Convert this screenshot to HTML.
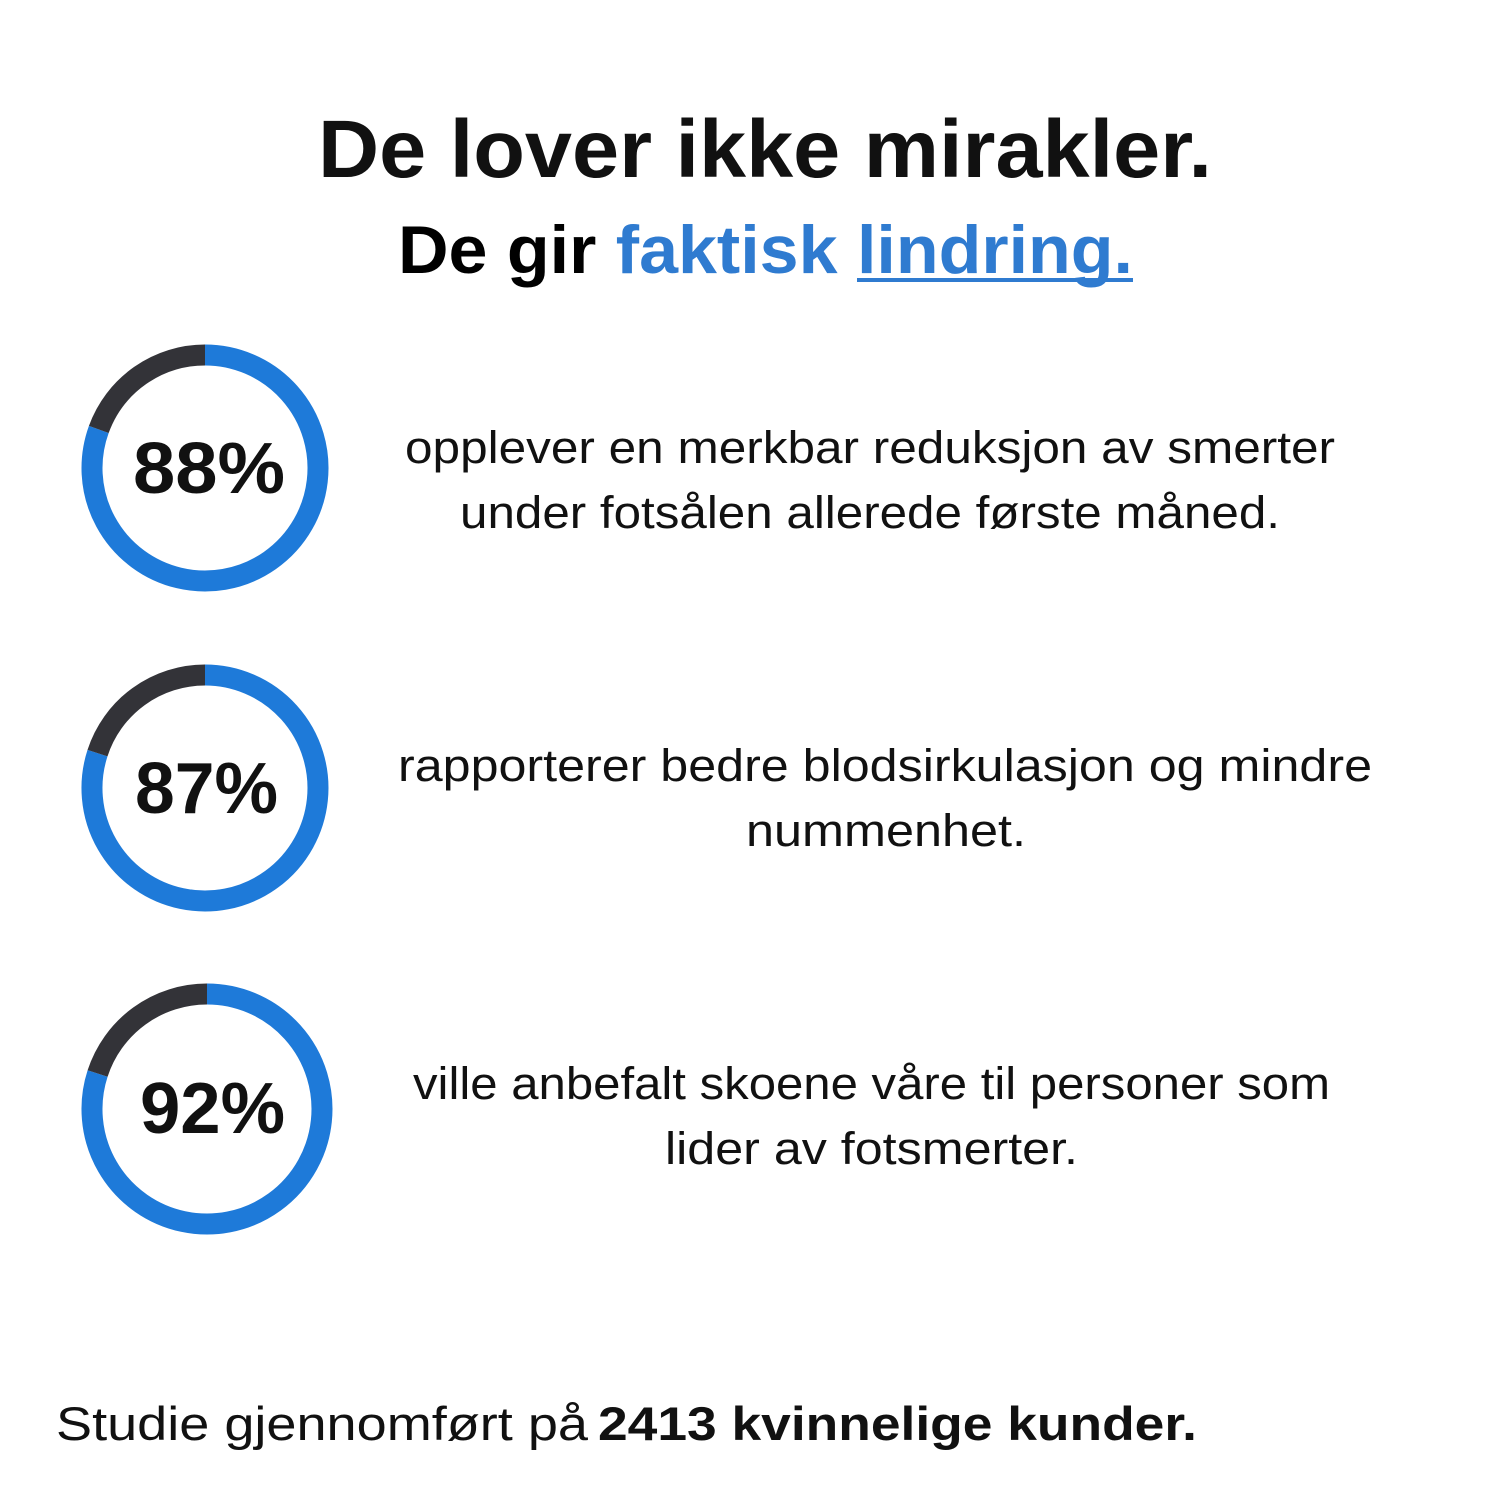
<!DOCTYPE html>
<html><head><meta charset="utf-8"><style>
html,body{margin:0;padding:0;background:#fff;}
svg{display:block;}
text{font-family:"Liberation Sans",sans-serif;fill:#111;}
.b{font-weight:bold;}
</style></head><body>
<svg width="1500" height="1500" viewBox="0 0 1500 1500" xmlns="http://www.w3.org/2000/svg">
<rect width="1500" height="1500" fill="#fff"/>
<text class="b" x="318" y="177" font-size="82" textLength="894" lengthAdjust="spacingAndGlyphs" fill="#000">De lover ikke mirakler.</text>
<text class="b" x="398" y="273" font-size="68" textLength="735" lengthAdjust="spacingAndGlyphs"><tspan fill="#000">De gir </tspan><tspan fill="#2f7bd0">faktisk lindring.</tspan></text>
<rect x="857" y="278" width="276" height="4" fill="#2f7bd0"/>

<g fill="none" stroke-width="21">
 <g transform="translate(205,468)">
  <path d="M0,-113 A113,113 0 1 1 -106.2,-38.6" stroke="#1e7ad9"/>
  <path d="M-106.2,-38.6 A113,113 0 0 1 0,-113" stroke="#333338"/>
 </g>
 <g transform="translate(205,788)">
  <path d="M0,-113 A113,113 0 1 1 -107.5,-34.9" stroke="#1e7ad9"/>
  <path d="M-107.5,-34.9 A113,113 0 0 1 0,-113" stroke="#333338"/>
 </g>
 <g transform="translate(207,1109)">
  <path d="M0,-115 A115,115 0 1 1 -109.4,-35.5" stroke="#1e7ad9"/>
  <path d="M-109.4,-35.5 A115,115 0 0 1 0,-115" stroke="#333338"/>
 </g>
</g>
<text class="b" x="133" y="493" font-size="72" textLength="152" lengthAdjust="spacingAndGlyphs" fill="#000">88%</text>
<text class="b" x="135" y="813" font-size="72" textLength="143" lengthAdjust="spacingAndGlyphs" fill="#000">87%</text>
<text class="b" x="140" y="1133" font-size="72" textLength="145" lengthAdjust="spacingAndGlyphs" fill="#000">92%</text>

<g font-size="45">
<text x="405" y="463" textLength="930" lengthAdjust="spacingAndGlyphs">opplever en merkbar reduksjon av smerter</text>
<text x="460" y="528" textLength="820" lengthAdjust="spacingAndGlyphs">under fotsålen allerede første måned.</text>
<text x="398" y="781" textLength="974" lengthAdjust="spacingAndGlyphs">rapporterer bedre blodsirkulasjon og mindre</text>
<text x="746" y="846" textLength="280" lengthAdjust="spacingAndGlyphs">nummenhet.</text>
<text x="413" y="1099" textLength="917" lengthAdjust="spacingAndGlyphs">ville anbefalt skoene våre til personer som</text>
<text x="665" y="1164" textLength="413" lengthAdjust="spacingAndGlyphs">lider av fotsmerter.</text>
</g>
<text x="56" y="1440" font-size="47" textLength="532" lengthAdjust="spacingAndGlyphs">Studie gjennomført på</text>
<text class="b" x="598" y="1440" font-size="47" textLength="599" lengthAdjust="spacingAndGlyphs" fill="#000">2413 kvinnelige kunder.</text>
</svg>
</body></html>
